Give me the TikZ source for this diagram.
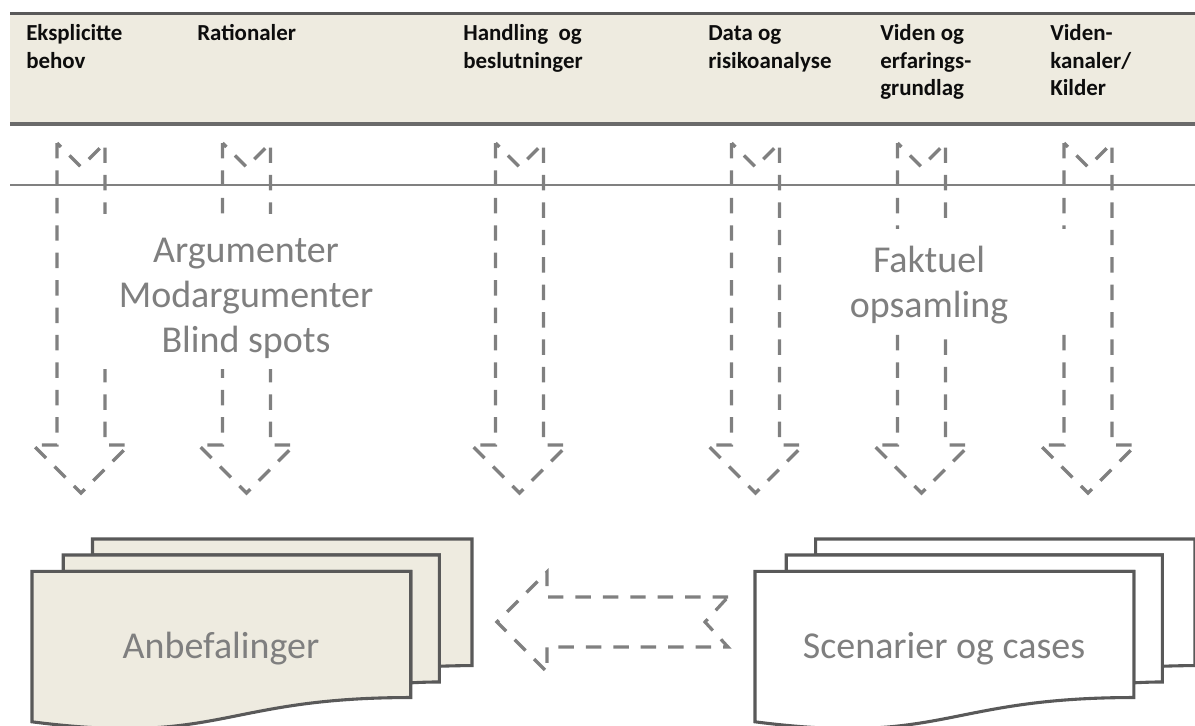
\documentclass[tikz,border=0pt]{standalone}
\usepackage{fontspec}
\setmainfont{Carlito}
\definecolor{bandfill}{RGB}{238,235,224}
\definecolor{darkline}{RGB}{89,89,89}
\definecolor{dashgray}{RGB}{128,128,128}
\definecolor{textgray}{RGB}{127,127,127}
\definecolor{headtext}{RGB}{13,13,13}
\tikzset{
  blockarrow/.style={draw=dashgray, line width=2.3pt, dash pattern=on 11pt off 8.5pt},
  headlabel/.style={anchor=base west, inner sep=0pt, font=\fontsize{16.3}{19.6}\selectfont\bfseries, text=headtext},
  biglabel/.style={anchor=base, inner sep=0pt, font=\fontsize{27}{32}\selectfont, text=textgray},
  docpage/.style={draw=darkline, line width=2.2pt},
}
\newcommand{\dnarrow}[1]{\draw[blockarrow] (#1-24,143) -- (#1-24,445) -- (#1-48,445) -- (#1,493) -- (#1+48,445) -- (#1+24,445) -- (#1+24,143) -- (#1,167) -- cycle;}
\newcommand{\multidoc}[3]{%
  \begin{scope}[shift={(#1,#2)}, xscale=2.037, yscale=0.8796]
    \filldraw[docpage, fill=#3] (29.72,18.15) -- (29.72,0) -- (216,0) -- (216,143.92) .. controls (208,143.92) and (200,144.67) .. (200,144.67) -- (200,18.15) -- cycle;
    \filldraw[docpage, fill=#3] (15.32,36.75) -- (15.32,18.15) -- (200,18.15) -- (200,162.52) .. controls (192.98,162.52) and (185.95,163.52) .. (185.95,163.52) -- (185.95,36.75) -- cycle;
    \filldraw[docpage, fill=#3] (0,207.82) .. controls (92.98,235.42) and (92.98,180.22) .. (185.95,180.22) -- (185.95,36.75) -- (0,36.75) -- cycle;
  \end{scope}}
\begin{document}
\begin{tikzpicture}[x=0.025cm, y=-0.025cm]
\useasboundingbox (0,0) rectangle (1195,725);
% header band
\fill[bandfill] (10,13.3) rectangle (1195,123.8);
\draw[darkline, line width=2.35pt] (10,13.3) -- (1195,13.3);
\draw[darkline!90, line width=3.05pt] (10,123.8) -- (1195,123.8);
\draw[dashgray, line width=1.4pt] (10,185) -- (1195,185);
% header labels
\node[headlabel] (h1) at (26,40.7) {\begin{tabular}[t]{@{}l@{}}Eksplicitte\\behov\end{tabular}};
\node[headlabel] (h2) at (197,40.7) {\begin{tabular}[t]{@{}l@{}}Rationaler\end{tabular}};
\node[headlabel] (h3) at (463,40.7) {\begin{tabular}[t]{@{}l@{}}Handling\ \ og\\beslutninger\end{tabular}};
\node[headlabel] (h4) at (708,40.7) {\begin{tabular}[t]{@{}l@{}}Data og\\risikoanalyse\end{tabular}};
\node[headlabel] (h5) at (880,40.7) {\begin{tabular}[t]{@{}l@{}}Viden og\\erfarings-\\grundlag\end{tabular}};
\node[headlabel] (h6) at (1050,40.7) {\begin{tabular}[t]{@{}l@{}}Viden-\\kanaler/\\Kilder\end{tabular}};
% dashed down arrows
\dnarrow{81}
\dnarrow{246.5}
\dnarrow{519.5}
\dnarrow{755.5}
\dnarrow{921.5}
\dnarrow{1088}
% white text backgrounds
\fill[white] (85,214) rectangle (400,369);
\fill[white] (790,229) rectangle (1075,333);
\node[biglabel] (arg) at (246,262) {\begin{tabular}[t]{@{}c@{}}Argumenter\\Modargumenter\\Blind spots\end{tabular}};
\node[biglabel] (fakt) at (929,272) {\begin{tabular}[t]{@{}c@{}}Faktuel\\opsamling\end{tabular}};
% documents
\multidoc{32}{539}{bandfill}
\multidoc{755}{539}{white}
\node[biglabel] (anbef) at (221,658) {Anbefalinger};
\node[biglabel] (scen) at (944,658) {Scenarier og cases};
% left dashed arrow
\draw[blockarrow] (728,597) -- (547,597) -- (547,572) -- (497,622) -- (547,672) -- (547,647) -- (728,647) -- (705,622) -- cycle;
\end{tikzpicture}
\end{document}
